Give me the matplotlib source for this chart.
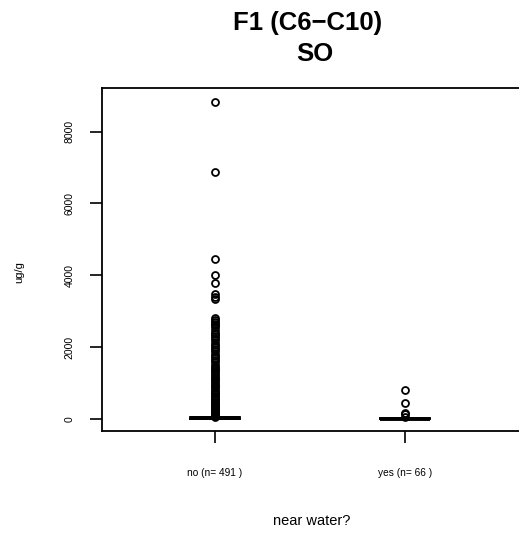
import numpy as np
import matplotlib
matplotlib.use("Agg")
import matplotlib.pyplot as plt

plt.rcParams['font.family'] = ['Liberation Sans', 'DejaVu Sans']

# groups and counts
groups = ['no', 'yes']
counts = [491, 66]
tick_labels = ['%s (n= %d )' % (g, n) for g, n in zip(groups, counts)]

# five-number summaries (ug/g)
q1s = [2, 1]
meds = [10, 5]
q3s = [20, 12]
whis_lo = [0, 0]
whis_hi = [45, 30]

# outliers, "no" group
fliers_no = [8830, 6880, 4450, 4000, 3790, 3480, 3400, 3340,
             2800, 2750, 2700, 2650, 2600, 2550, 2480, 2400, 2350, 2300,
             2250, 2200, 2120, 2050, 2000, 1950, 1880, 1800, 1750, 1700,
             1650, 1580, 1500, 1450, 1400, 1350, 1300, 1250, 1200, 1150,
             1100, 1050, 1000, 950, 900, 850, 800, 760, 720, 680, 640,
             600, 560, 520, 480, 450, 420, 390, 360, 330, 300, 270, 240,
             210, 190, 170, 150, 130, 110, 95, 80, 65, 50]
# outliers, "yes" group
fliers_yes = [806, 444, 160, 120, 60]

stats = []
for i, fl in enumerate([fliers_no, fliers_yes]):
    stats.append(dict(q1=q1s[i], med=meds[i], q3=q3s[i],
                      whislo=whis_lo[i], whishi=whis_hi[i], fliers=fl))

fig = plt.figure(figsize=(5.19, 5.33), dpi=100)
ax = fig.add_axes([102/519, 102/533, 1 - 102/519, 343/533])

ax.bxp(stats, positions=[1, 2], widths=0.26, capwidths=0.26,
       boxprops=dict(color='black', lw=1.3),
       whiskerprops=dict(color='black', lw=1.3, ls='--'),
       capprops=dict(color='black', lw=1.3),
       medianprops=dict(color='black', lw=2.8),
       flierprops=dict(marker='o', markerfacecolor='none',
                       markeredgecolor='black', markersize=5, markeredgewidth=1.3))

ax.set_xlim(1 - 113/190, 2 + 114/190)
ax.set_ylim(-340, 9215)
ax.set_yticks([0, 2000, 4000, 6000, 8000])
ax.set_yticklabels(['0', '2000', '4000', '6000', '8000'], rotation=90,
                   va='center', fontsize=7.5)
ax.set_xticks([1, 2])
ax.set_xticklabels(tick_labels, fontsize=7.3)
ax.tick_params(axis='y', length=8.6, width=1.2, pad=11)
ax.tick_params(axis='x', length=8.6, width=1.2, pad=18)
ax.spines['right'].set_visible(False)
for s in ['left', 'top', 'bottom']:
    ax.spines[s].set_linewidth(1.3)

fig.text(308/519, 1 - 23/533, 'F1 (C6\u2212C10)', ha='center', va='center',
         fontsize=18.5, fontweight='bold')
fig.text(315/519, 1 - 54/533, 'SO', ha='center', va='center',
         fontsize=18.5, fontweight='bold')
fig.text(19/519, 1 - 272/533, 'ug/g', rotation=90, ha='center', va='center',
         fontsize=8)
fig.text(312/519, 1 - 521/533, 'near water?', ha='center', va='center',
         fontsize=10.5)

fig.savefig('out.png', dpi=100)
